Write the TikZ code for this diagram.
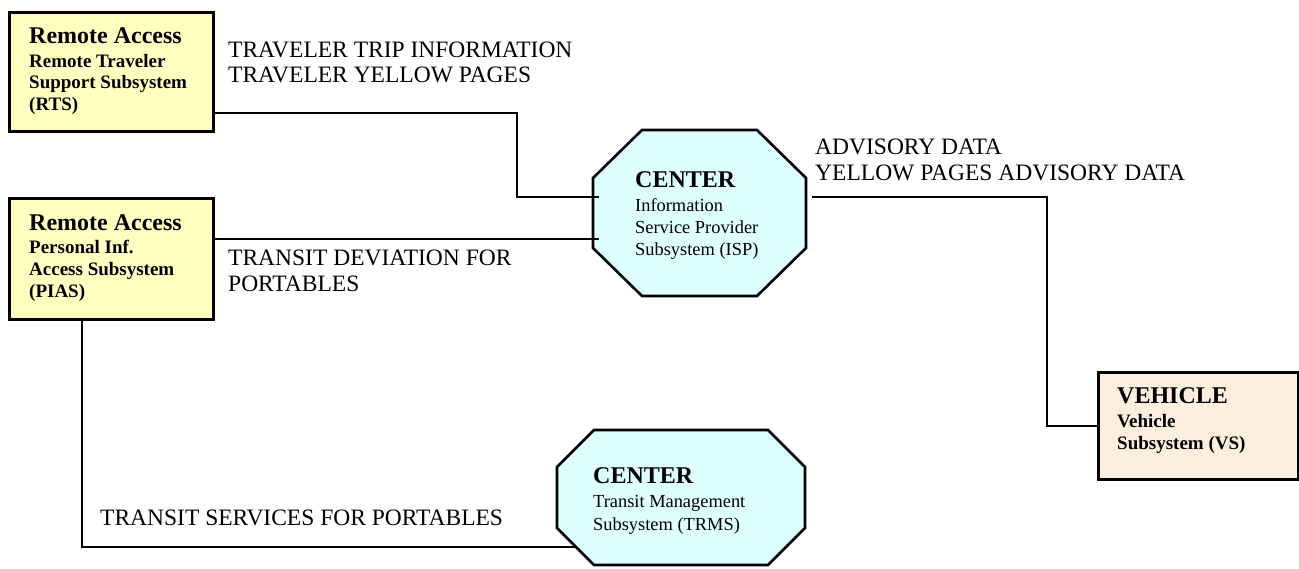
\documentclass[tikz,border=0pt]{standalone}
\usepackage{fontspec}
\setmainfont{Liberation Serif}
\definecolor{boxyellow}{RGB}{255,255,192}
\definecolor{centercyan}{RGB}{221,255,255}
\definecolor{vehpeach}{RGB}{253,239,221}
\begin{document}
\begin{tikzpicture}[x=1pt,y=-1pt,
  box/.style={draw=black, line width=2.6pt, anchor=north west, inner sep=0pt},
  octa/.style={draw=black, line width=2.6pt, fill=centercyan, line join=miter},
  conn/.style={draw=black, line width=2.2pt},
  title/.style={anchor=base west, inner sep=0pt, font=\fontsize{24}{28}\selectfont\bfseries},
  sub/.style={anchor=base west, inner sep=0pt, font=\fontsize{19}{22}\selectfont\bfseries},
  ctext/.style={anchor=base west, inner sep=0pt, font=\fontsize{18.4}{22}\selectfont},
  flow/.style={anchor=base west, inner sep=0pt, font=\fontsize{23.5}{28}\selectfont},
]
\useasboundingbox (0,0) rectangle (1299,568);
\fill[white] (0,0) rectangle (1299,568);

% Remote Traveler Support Subsystem
\node[box, fill=boxyellow, minimum width=204pt, minimum height=119pt] (rts) at (8,11) {};
\node[title] (rts-t) at (29,43) {Remote Access};
\node[sub] (rts-s1) at (29,67) {Remote Traveler};
\node[sub] (rts-s2) at (29,88) {Support Subsystem};
\node[sub] (rts-s3) at (29,110) {(RTS)};

% Personal Information Access Subsystem
\node[box, fill=boxyellow, minimum width=204pt, minimum height=121pt] (pias) at (8,197) {};
\node[title] (pias-t) at (29,230) {Remote Access};
\node[sub] (pias-s1) at (29,253) {Personal Inf.};
\node[sub] (pias-s2) at (29,275) {Access Subsystem};
\node[sub] (pias-s3) at (29,297) {(PIAS)};

% Vehicle Subsystem
\node[box, fill=vehpeach, minimum width=200pt, minimum height=107pt] (vs) at (1097,371) {};
\node[title] (vs-t) at (1117,403) {VEHICLE};
\node[sub] (vs-s1) at (1117,427) {Vehicle};
\node[sub] (vs-s2) at (1117,449) {Subsystem (VS)};

% ISP center (octagon)
\draw[octa] (593,178) -- (642,130) -- (757,130) -- (806,178) -- (806,248) -- (757,296) -- (642,296) -- (593,248) -- cycle;
\node[title] (isp-t) at (635,187) {CENTER};
\node[ctext] (isp-s1) at (635,211) {Information};
\node[ctext] (isp-s2) at (635,233) {Service Provider};
\node[ctext] (isp-s3) at (635,255) {Subsystem (ISP)};
\coordinate (isp-w1) at (599,197);
\coordinate (isp-w2) at (599,239);
\coordinate (isp-e) at (812,197);

% TRMS center (octagon)
\draw[octa] (557,467) -- (594,430) -- (768,430) -- (805,467) -- (805,528) -- (768,565) -- (594,565) -- (557,528) -- cycle;
\node[title] (trms-t) at (593,483) {CENTER};
\node[ctext] (trms-s1) at (593,507) {Transit Management};
\node[ctext] (trms-s2) at (593,530) {Subsystem (TRMS)};
\coordinate (trms-w) at (577,547);

% connectors
\draw[conn] ([yshift=20pt]rts.south east) -| (517,197) -- (isp-w1);
\draw[conn] (pias.east |- isp-w2) -- (isp-w2);
\draw[conn] (isp-e) -| ([xshift=-50pt]vs.west) -- (vs.west);
\draw[conn] ([xshift=-29pt]pias.south) |- (trms-w);

% flow labels
\node[flow] (f1a) at (228,57) {TRAVELER TRIP INFORMATION};
\node[flow] (f1b) at (228,82) {TRAVELER YELLOW PAGES};
\node[flow] (f2a) at (228,265) {TRANSIT DEVIATION FOR};
\node[flow] (f2b) at (228,291) {PORTABLES};
\node[flow] (f3a) at (815,154) {ADVISORY DATA};
\node[flow] (f3b) at (815,180) {YELLOW PAGES ADVISORY DATA};
\node[flow] (f4) at (100,525) {TRANSIT SERVICES FOR PORTABLES};
\end{tikzpicture}
\end{document}
